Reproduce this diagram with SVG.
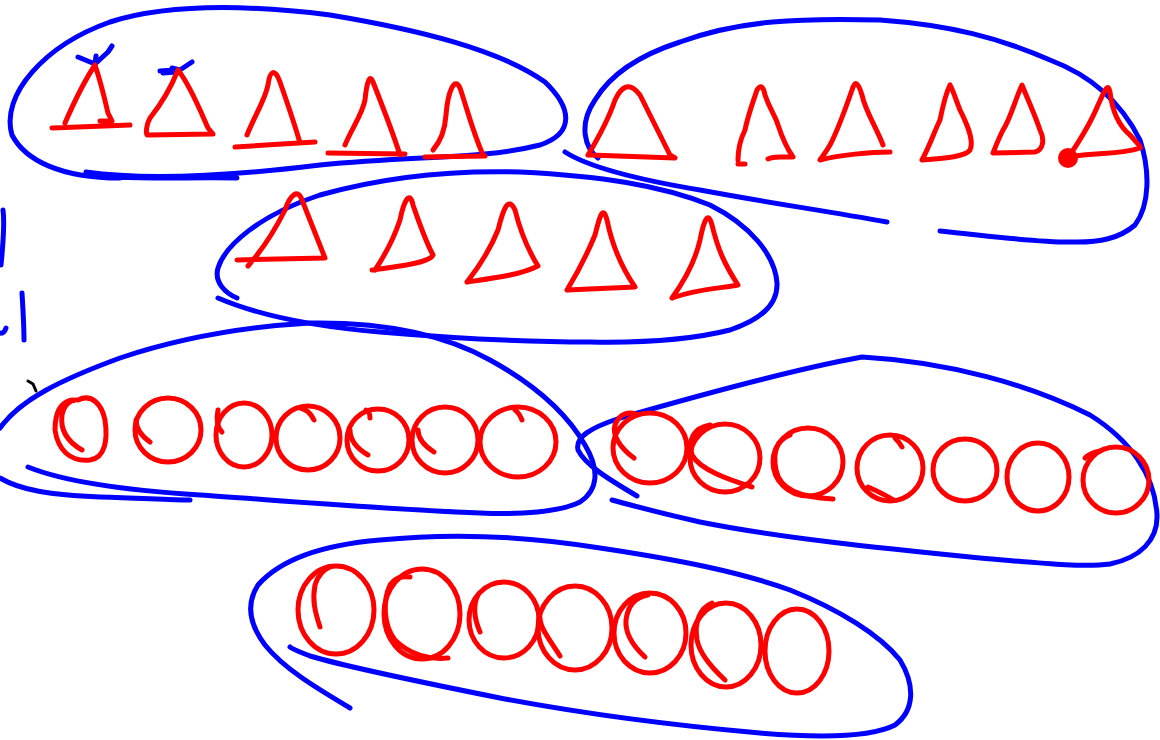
<svg xmlns="http://www.w3.org/2000/svg" width="1160" height="740" viewBox="0 0 1160 740">
<style>
.b{fill:none;stroke:#0000ff;stroke-width:5;stroke-linecap:round;stroke-linejoin:round}
.r{fill:none;stroke:#ff0000;stroke-width:5;stroke-linecap:round;stroke-linejoin:round}
</style>
<rect width="1160" height="740" fill="#ffffff"/>
<g id="loops">
<path class="b" d="M237,178 C190,177 120,180 88,175 M86,172 C150,181 230,176 320,165 C420,155 480,160 540,145 C575,133 572,108 545,82 C500,50 420,30 330,15 C250,5 170,3 110,22 C45,45 0,95 12,135 C25,160 60,178 120,178"/>
<path class="b" d="M598,158 C585,148 578,125 595,100 C610,75 640,55 680,42 C740,20 800,18 880,20 C950,25 1000,38 1050,60 C1090,75 1120,100 1140,140 C1150,170 1150,205 1135,225 C1120,238 1100,243 1070,242 C1030,242 990,236 940,231"/>
<path class="b" d="M565,152 C590,168 640,180 700,190 C770,203 820,210 887,222"/>
<path class="b" d="M237,298 C225,293 214,282 218,268 C225,245 260,215 320,195 C380,178 450,170 520,172 C600,176 660,185 710,205 C750,225 775,255 777,283 C778,305 760,320 730,330 C690,340 640,343 590,342 C520,342 450,338 380,332 C320,327 260,316 218,298"/>
<path class="b" d="M0,428 C20,400 60,380 120,358 C180,338 240,327 310,323 C380,322 440,332 490,360 C530,382 565,410 585,445 C600,470 598,490 580,502 C560,512 520,515 480,513 C400,510 300,502 200,495 C120,490 60,480 28,467"/>
<path class="b" d="M0,478 C20,490 50,495 100,497 C140,498 170,500 190,500"/>
<path class="b" d="M637,496 C610,480 585,465 578,450 C575,437 590,428 620,418 C700,395 790,370 862,357 C950,362 1030,385 1090,415 C1130,440 1155,475 1157,515 C1158,540 1140,558 1110,564 C1080,568 1030,562 980,558 C880,548 780,538 700,522 C660,513 630,505 612,500"/>
<path class="b" d="M350,708 C320,690 285,670 265,645 C250,625 245,605 258,585 C280,560 320,545 380,540 C450,533 520,535 600,548 C680,560 740,572 790,590 C840,610 880,635 900,660 C915,685 915,710 895,725 C870,738 820,738 760,733 C680,726 590,715 500,698 C420,682 340,665 310,656 C300,652 292,649 290,647"/>
</g>
<g id="marks">
<path class="b" d="M3,210 C5,225 3,245 1,265"/>
<path class="b" d="M22,293 C23,310 24,325 24,340"/>
<path class="b" d="M0,333 C3,334 5,331 6,328"/>
<path class="b" d="M78,57 L95,64 L108,52 L112,46 M95,64 L96,56"/>
<path class="b" d="M160,71 L176,70 L172,68 L180,70 L192,62 M163,73 L176,72"/>
<path d="M28,381 L33,384 L36,391" fill="none" stroke="#000" stroke-width="3" stroke-linecap="round"/>
</g>
<g id="triangles">
<path class="r" d="M65,123 C75,100 85,80 95,65 C100,80 105,100 108,113 L112,121 L100,121 M52,128 L130,125"/>
<path class="r" d="M178,70 C168,95 158,108 150,118 C146,125 146,133 147,135 L213,134 L208,128 C200,110 190,85 178,70 Z"/>
<path class="r" d="M247,135 C255,115 265,100 268,85 C270,70 275,68 280,82 C288,105 295,125 300,143 M235,147 L315,142"/>
<path class="r" d="M345,145 C352,128 362,115 365,100 C367,80 370,74 373,82 C382,105 392,130 400,155 M328,153 L405,154"/>
<path class="r" d="M433,150 C440,142 445,130 446,115 C448,90 455,76 460,88 C466,105 472,130 483,155 M425,157 L485,156"/>
<path class="r" d="M588,155 C600,135 610,115 615,100 C622,85 630,82 640,95 C650,115 660,135 670,155 L675,158 L590,155"/>
<path class="r" d="M738,160 C738,150 740,140 745,130 C748,115 752,105 757,90 C760,85 763,85 765,95 C770,110 775,115 778,125 C783,140 788,150 793,157 L780,157 C775,157 770,158 768,159 M738,164 L745,164"/>
<path class="r" d="M883,145 C875,125 865,110 862,95 C858,82 855,80 852,90 C845,110 838,130 830,145 C826,152 822,157 820,160 C840,155 870,152 890,152"/>
<path class="r" d="M950,85 C945,95 942,110 940,120 C935,130 930,145 922,160 C945,158 965,157 970,150 C975,140 965,120 960,110 C956,100 953,90 950,85 Z"/>
<path class="r" d="M1022,85 C1015,100 1010,120 1003,130 C998,140 995,148 993,153 L1035,152 C1043,150 1045,140 1040,130 C1035,115 1028,100 1022,85 Z"/>
<path class="r" d="M1070,155 C1080,140 1092,120 1098,105 C1105,90 1108,82 1110,92 C1112,110 1118,125 1130,135 C1137,143 1142,148 1140,148 C1120,155 1100,152 1068,157"/>
<circle cx="1068" cy="158" r="10" fill="#ff0000"/>
<path class="r" d="M248,266 C262,250 275,230 285,210 C290,195 298,188 302,200 C310,220 318,240 325,258 L237,260"/>
<path class="r" d="M375,270 C385,255 395,235 400,220 C404,200 410,190 413,205 C420,225 425,240 433,255 C430,262 405,266 372,270"/>
<path class="r" d="M467,282 C478,268 490,250 498,230 C503,210 508,195 515,210 C520,230 528,250 538,266 C520,275 495,278 467,282"/>
<path class="r" d="M567,290 C578,272 588,252 595,235 C600,215 603,205 607,220 C612,245 620,265 635,287 L567,290"/>
<path class="r" d="M672,298 C685,280 695,262 700,240 C704,220 708,210 712,225 C718,250 725,265 738,285 C725,288 700,288 672,298"/>
</g>
<g id="circles">
<path class="r" d="M82,450 C68,442 60,430 62,415 C64,405 70,400 76,400 M78,400 C92,393 102,405 105,420 C108,440 105,458 90,460 C70,462 58,450 55,430 C55,410 62,402 72,400"/>
<ellipse class="r" cx="168" cy="430" rx="33" ry="32"/>
<path class="r" d="M150,442 C140,435 136,428 136,420"/>
<ellipse class="r" cx="244" cy="435" rx="28" ry="32"/>
<path class="r" d="M222,432 C218,428 216,420 218,410"/>
<ellipse class="r" cx="308" cy="438" rx="32" ry="32"/>
<path class="r" d="M314,420 C310,412 306,409 300,408"/>
<ellipse class="r" cx="378" cy="440" rx="31" ry="31"/>
<path class="r" d="M368,455 C356,448 350,440 350,430 M370,418 C370,414 369,411 366,410"/>
<ellipse class="r" cx="445" cy="440" rx="33" ry="33"/>
<path class="r" d="M434,452 C423,445 418,437 418,430"/>
<ellipse class="r" cx="518" cy="442" rx="38" ry="35"/>
<path class="r" d="M522,420 C520,415 518,412 515,410"/>
<ellipse class="r" cx="650" cy="448" rx="37" ry="35"/>
<path class="r" d="M634,458 C620,448 612,435 615,425 C620,412 630,412 636,414"/>
<ellipse class="r" cx="725" cy="458" rx="35" ry="34"/>
<path class="r" d="M752,487 C730,480 700,470 692,455 C688,440 693,428 710,425"/>
<ellipse class="r" cx="808" cy="462" rx="35" ry="34"/>
<path class="r" d="M833,499 C800,497 780,490 776,470 C772,450 778,440 790,435"/>
<ellipse class="r" cx="890" cy="468" rx="33" ry="33"/>
<path class="r" d="M868,487 C880,492 888,497 894,500 M902,447 C900,443 897,440 895,438"/>
<ellipse class="r" cx="965" cy="470" rx="32" ry="31"/>
<ellipse class="r" cx="1038" cy="477" rx="31" ry="34"/>
<ellipse class="r" cx="1116" cy="480" rx="33" ry="33"/>
<path class="r" d="M1085,458 C1090,453 1095,452 1100,451"/>
<ellipse class="r" cx="336" cy="610" rx="38" ry="44"/>
<path class="r" d="M320,627 C315,612 312,600 315,585 C318,575 323,570 330,567"/>
<ellipse class="r" cx="422" cy="614" rx="38" ry="45"/>
<path class="r" d="M448,658 C430,660 410,655 395,640 C383,625 383,600 390,585 C395,578 400,576 410,577"/>
<ellipse class="r" cx="504" cy="620" rx="35" ry="38"/>
<path class="r" d="M480,632 C474,618 473,605 478,595"/>
<ellipse class="r" cx="575" cy="628" rx="37" ry="42"/>
<path class="r" d="M560,656 C550,640 540,628 540,618"/>
<ellipse class="r" cx="650" cy="633" rx="36" ry="40"/>
<path class="r" d="M645,657 C632,645 625,632 626,620 C628,605 635,597 648,595"/>
<ellipse class="r" cx="726" cy="645" rx="35" ry="42"/>
<path class="r" d="M725,680 C712,668 700,655 697,640 C694,622 700,608 712,603"/>
<ellipse class="r" cx="797" cy="651" rx="32" ry="42"/>
</g>
</svg>
